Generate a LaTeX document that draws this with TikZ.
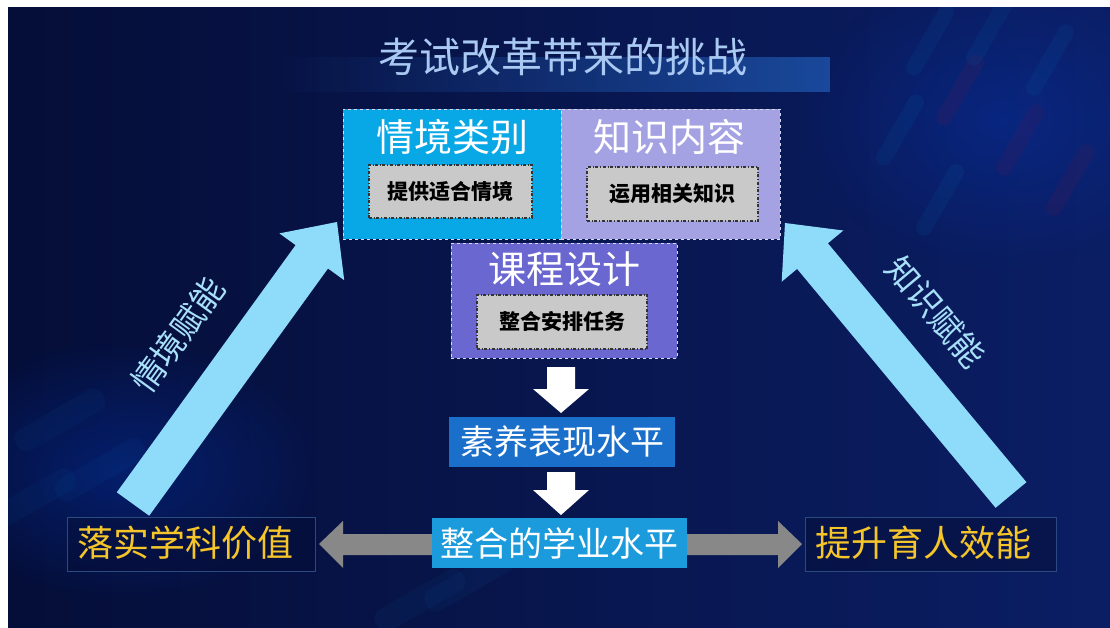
\documentclass[tikz,border=0pt]{standalone}
\usepackage{fontspec}
\setmainfont{Noto Sans CJK SC}
\usetikzlibrary{fadings}
\definecolor{bgA}{HTML}{050E38}
\definecolor{bgB}{HTML}{0B1E64}
\definecolor{cyanA}{HTML}{08A8E6}
\definecolor{lav}{HTML}{A4A2E2}
\definecolor{slate}{HTML}{6A67D0}
\definecolor{innerg}{HTML}{C9C9C9}
\definecolor{blueA}{HTML}{1A6FCB}
\definecolor{blueB}{HTML}{1B9BDB}
\definecolor{grayarr}{HTML}{888888}
\definecolor{gold}{HTML}{F5C52A}
\definecolor{lbarr}{HTML}{8EDCFA}
\definecolor{titlec}{HTML}{A9C9F2}
\definecolor{sidetxt}{HTML}{A8E0FA}
\definecolor{dashc}{HTML}{D8D8F0}
\definecolor{goldbox}{HTML}{2A4A80}
\tikzfading[name=fadeL, left color=transparent!100, right color=transparent!0]
\tikzfading[name=glow, inner color=transparent!0, outer color=transparent!100]
\tikzset{
  outer/.style={draw=dashc, dashed, line width=0.7pt, inner sep=0pt},
  boxtitle/.style={text=white, font=\fontsize{38}{38}\selectfont, inner sep=0pt},
  innerbox/.style={draw=black!80, fill=innerg, dash dot, line width=1.1pt,
    font=\fontsize{21}{21}\selectfont\bfseries, text=black, inner sep=0pt},
  flowbox/.style={text=white, font=\fontsize{34}{34}\selectfont, inner sep=0pt},
  goalbox/.style={draw=goldbox, line width=0.8pt, fill=bgA, fill opacity=0.5, text opacity=1,
    text=gold, font=\fontsize{36}{36}\selectfont, inner sep=0pt},
  sidelabel/.style={text=sidetxt, font=\fontsize{33}{33}\selectfont, inner sep=0pt},
  downarr/.style={fill=white},
  sidearr/.style={fill=lbarr},
  grayarrow/.style={fill=grayarr}
}
\begin{document}
\begin{tikzpicture}[x=1pt,y=-1pt]
\useasboundingbox (0,0) rectangle (1110,628);
% background
\shade[left color=bgA, right color=bgB] (8,8) rectangle (1110,628);
\begin{scope}
  \clip (8,8) rectangle (1110,628);
  \fill[blue!70!cyan, opacity=0.25, path fading=glow] (120,470) ellipse (200pt and 130pt);
  \fill[blue!70!cyan, opacity=0.20, path fading=glow] (1000,120) ellipse (200pt and 150pt);
  \begin{scope}[opacity=0.06]
    \foreach \x/\y/\c in {930/40/cyan, 960/90/red, 990/30/cyan, 1020/140/red, 1050/60/cyan, 900/130/cyan, 1070/180/red, 940/200/cyan}{
      \fill[\c, rounded corners=8pt, rotate around={60:(\x,\y)}] (\x-40,\y-8) rectangle (\x+40,\y+8);
    }
  \end{scope}
  \begin{scope}[opacity=0.06]
    \foreach \x/\y in {60/420, 100/470, 30/500, 420/600, 470/580}{
      \fill[cyan!60!blue, rounded corners=10pt, rotate around={30:(\x,\y)}] (\x-50,\y-12) rectangle (\x+50,\y+12);
    }
  \end{scope}
\end{scope}
% title band
\fill[blue!55!cyan!80!white, opacity=0.4, path fading=fadeL] (270,57) rectangle (830,92);
\node[text=titlec, font=\fontsize{41}{41}\selectfont, inner sep=0pt] (title) at (563,57) {考试改革带来的挑战};
% top boxes
\node[outer, fill=cyanA, minimum width=218pt, minimum height=130pt] (qj) at (452,174) {};
\node[outer, fill=lav, minimum width=219pt, minimum height=130pt] (zs) at (670.5,174) {};
\node[outer, fill=slate, minimum width=226pt, minimum height=115pt] (kc) at (564,300.5) {};
\node[boxtitle] (qjt) at (452,137) {情境类别};
\node[boxtitle] (zst) at (669,137) {知识内容};
\node[boxtitle] (kct) at (564,269) {课程设计};
\node[innerbox, minimum width=163pt, minimum height=53pt] (qji) at (450.5,191.5) {提供适合情境};
\node[innerbox, minimum width=171pt, minimum height=54pt] (zsi) at (672.5,194) {运用相关知识};
\node[innerbox, minimum width=170pt, minimum height=54pt] (kci) at (562,322) {整合安排任务};
% flow boxes
\node[flowbox, fill=blueA, minimum width=226pt, minimum height=50pt] (sy) at (562,442) {素养表现水平};
\node[flowbox, fill=blueB, minimum width=255pt, minimum height=50pt] (zh) at (559.5,543) {整合的学业水平};
% down arrows
\fill[downarr] (547,367) -- (575,367) -- (575,389) -- (589,389) -- (561,413) -- (533,389) -- (547,389) -- cycle;
\fill[downarr] (547,472) -- (575,472) -- (575,490) -- (589,490) -- (561,515) -- (533,490) -- (547,490) -- cycle;
% goal boxes
\node[goalbox, minimum width=248pt, minimum height=54pt] (lx) at (191,544) {};
\node[text=gold, font=\fontsize{36}{36}\selectfont, inner sep=0pt, anchor=west] (lxt) at (77,543) {落实学科价值};
\node[goalbox, minimum width=251pt, minimum height=54pt] (ts) at (930.5,544) {};
\node[text=gold, font=\fontsize{36}{36}\selectfont, inner sep=0pt, anchor=west] (tst) at (815,543) {提升育人效能};
% gray arrows
\fill[grayarrow] (zh.west |- 0,534) -- (343,534) -- (343,521) -- (319,544) -- (343,568) -- (343,555) -- (zh.west |- 0,555) -- cycle;
\fill[grayarrow] (zh.east |- 0,534) -- (778,534) -- (778,521) -- (802,544) -- (778,568) -- (778,555) -- (zh.east |- 0,555) -- cycle;
% side arrows
\fill[sidearr] (116.8,492.3) -- (295.6,245.1) -- (279.4,233.4) -- (337,222) -- (344.2,280.2) -- (328,268.5) -- (149.2,515.7) -- cycle;
\fill[sidearr] (995.6,507.8) -- (797.1,268.9) -- (781.7,281.7) -- (785,223) -- (843.3,230.5) -- (827.9,243.3) -- (1026.4,482.2) -- cycle;
\node[sidelabel, rotate=54] (qjfn) at (178,335) {情境赋能};
\node[sidelabel, rotate=-50] (zsfn) at (936,312) {知识赋能};
\end{tikzpicture}
\end{document}
